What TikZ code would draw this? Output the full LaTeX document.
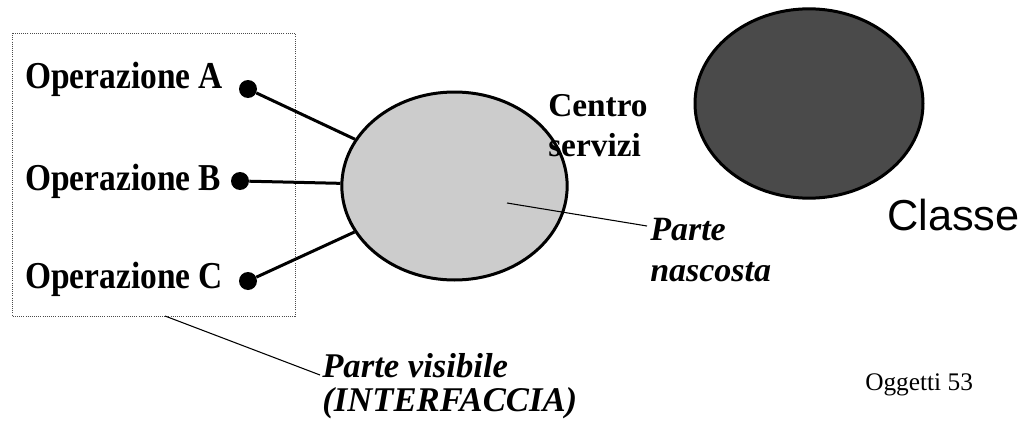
\documentclass[tikz,border=0pt]{standalone}
\usepackage{fontspec}
\setmainfont{Liberation Serif}
\newfontfamily\arialfont{Liberation Sans}
\newfontfamily\opfont{Liberation Serif}[FakeStretch=0.88]
\usepackage{xcolor}
\usepackage{tikz}
\usetikzlibrary{shapes.geometric}

\definecolor{servgray}{HTML}{CCCCCC}
\definecolor{classgray}{HTML}{4A4A4A}

\begin{document}
\begin{tikzpicture}[x=0.75pt,y=-0.75pt,
    op/.style={anchor=base west,inner sep=0pt,font=\opfont\bfseries\fontsize{28.5}{32}\selectfont},
    note/.style={anchor=base west,inner sep=0pt,font=\bfseries\itshape\fontsize{25.5}{30}\selectfont},
    dot/.style={circle,fill=black,inner sep=0pt,minimum size=13.5pt},
    blob/.style={ellipse,draw,line width=2.25pt,inner sep=0pt,minimum width=169pt,minimum height=141pt},
    conn/.style={line width=2.25pt},
    pointer/.style={line width=0.8pt}]
      \useasboundingbox (0,0) rectangle (1033,421);

      % インタフェースの枠(点線)
      \coordinate (P1) at (12,33);
      \coordinate (P2) at (295,316);
      \draw[densely dotted, line width=0.6pt, black!70] (P1) rectangle (P2);

      % 楕円
      \node[blob, fill=servgray] (serv) at (454.5,186) {};
      \node[blob, fill=classgray, minimum width=171pt, minimum height=142pt] (classe) at (809,103.5) {};

      % 操作と接続点
      \node[op] (opA) at (25,89) {Operazione A};
      \node[op] (opB) at (25,190) {Operazione B};
      \node[op] (opC) at (25,288) {Operazione C};
      \node[dot] (dA) at (248,89) {};
      \node[dot] (dB) at (240,181) {};
      \node[dot] (dC) at (248,281) {};
      \draw[conn] (dA) -- (serv);
      \draw[conn] (dB) -- (serv);
      \draw[conn] (dC) -- (serv);

      \node[anchor=base west, inner sep=0pt, font=\bfseries\fontsize{25}{30}\selectfont] (cen1) at (548,116) {Centro};
      \node[anchor=base west, inner sep=0pt, font=\bfseries\fontsize{25}{30}\selectfont] (cen2) at (548,156) {servizi};

      % 説明
      \coordinate (pn) at (507,203);
      \coordinate (pnEnd) at (647,226);
      \draw[pointer] (pn) -- (pnEnd);
      \node[note] (nasc1) at (650,240) {Parte};
      \node[note] (nasc2) at (650,281) {nascosta};

      \coordinate (pv) at (165,316);
      \coordinate (pvEnd) at (320,375);
      \draw[pointer] (pv) -- (pvEnd);
      \node[note, font=\bfseries\itshape\fontsize{26}{30}\selectfont] (vis1) at (322,377) {Parte visibile};
      \node[note, font=\bfseries\itshape\fontsize{26}{30}\selectfont] (vis2) at (322,411) {(INTERFACCIA)};

      \node[anchor=base west, inner sep=0pt, font=\arialfont\fontsize{32.5}{38}\selectfont] (cls) at (887,230) {Classe};
      \node[anchor=base west, inner sep=0pt, font=\fontsize{19}{23}\selectfont] (page) at (865,390) {Oggetti 53};
  \end{tikzpicture}
\end{document}
